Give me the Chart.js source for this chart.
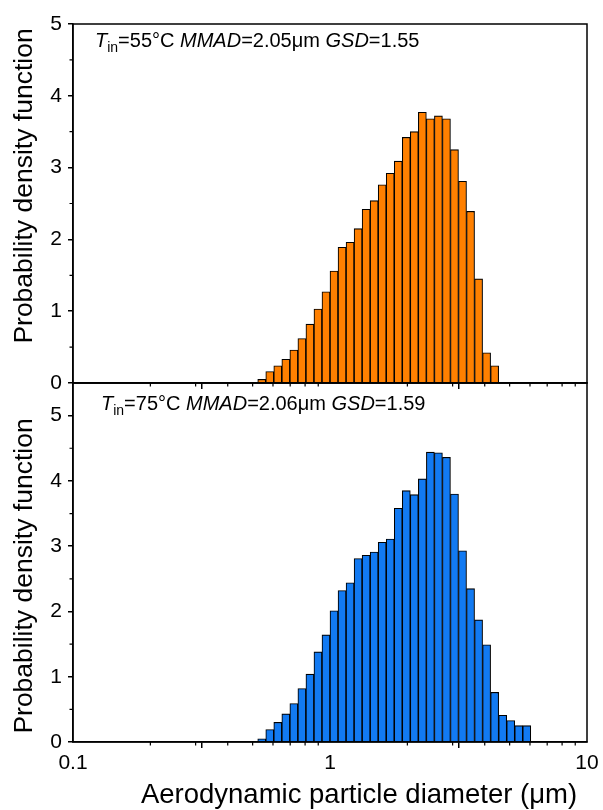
<!DOCTYPE html>
<html>
<head>
<meta charset="utf-8">
<script src="https://cdn.jsdelivr.net/npm/chart.js@4.4.1/dist/chart.umd.min.js"></script>
<style>
  html, body { margin: 0; padding: 0; background: #fff; }
  #wrap { position: relative; width: 603px; height: 810px; }
  canvas { position: absolute; left: 0; }
  #top { top: 0; }
  #bottom { top: 375px; }
</style>
</head>
<body>
<div id="wrap">
  <canvas id="top" width="603" height="400"></canvas>
  <canvas id="bottom" width="603" height="435"></canvas>
</div>
<script>
const FONT = '"Liberation Sans", Arial, Helvetica, sans-serif';

// APS channel midpoints (um), 32 channels per decade
const sizes55 = [0.5425, 0.5830, 0.6264, 0.6732, 0.7234, 0.7774, 0.8354, 0.8977, 0.9647,
  1.0366, 1.1140, 1.1971, 1.2864, 1.3824, 1.4855, 1.5963, 1.7154, 1.8434, 1.9809,
  2.1287, 2.2875, 2.4582, 2.6416, 2.8387, 3.0505, 3.2781, 3.5227, 3.7855, 4.0679, 4.3714];
const pdf55 = [0.05, 0.16, 0.24, 0.33, 0.46, 0.62, 0.82, 1.03, 1.27, 1.56,
  1.89, 1.96, 2.15, 2.42, 2.54, 2.76, 2.92, 3.09, 3.42, 3.50,
  3.77, 3.68, 3.72, 3.68, 3.25, 2.81, 2.39, 1.45, 0.42, 0.24];

const sizes75 = [0.5425, 0.5830, 0.6264, 0.6732, 0.7234, 0.7774, 0.8354, 0.8977, 0.9647,
  1.0366, 1.1140, 1.1971, 1.2864, 1.3824, 1.4855, 1.5963, 1.7154, 1.8434, 1.9809,
  2.1287, 2.2875, 2.4582, 2.6416, 2.8387, 3.0505, 3.2781, 3.5227, 3.7855, 4.0679, 4.3714,
  4.6976, 5.0481, 5.4247, 5.8294];
const pdf75 = [0.05, 0.19, 0.30, 0.43, 0.59, 0.82, 1.04, 1.38, 1.64, 2.01,
  2.32, 2.44, 2.81, 2.86, 2.91, 3.06, 3.11, 3.58, 3.85, 3.79,
  4.03, 4.44, 4.43, 4.36, 3.80, 2.93, 2.35, 1.87, 1.49, 0.76,
  0.41, 0.33, 0.25, 0.25];

const xTickValues = [0.1, 1, 10];
const xTickLabels = ['0.1', '1', '10'];
const xMinorValues = [0.2, 0.3, 0.4, 0.5, 0.6, 0.7, 0.8, 0.9, 2, 3, 4, 5, 6, 7, 8, 9];
const yTickValues = [0, 1, 2, 3, 4, 5];
const yMinorValues = [0.5, 1.5, 2.5, 3.5, 4.5];

const note55 = [['T', 'italic'], ['in', 'sub'], ['=55°C ', ''], ['MMAD', 'italic'], ['=2.05μm ', ''], ['GSD', 'italic'], ['=1.55', '']];
const note75 = [['T', 'italic'], ['in', 'sub'], ['=75°C ', ''], ['MMAD', 'italic'], ['=2.06μm ', ''], ['GSD', 'italic'], ['=1.59', '']];

const yTitle = 'Probability density function';
const xTitle = 'Aerodynamic particle diameter (μm)';

// frame, minor ticks, annotation and axis titles
const panelDecor = {
  id: 'panelDecor',
  afterDatasetsDraw(chart, args, opts) {
    const { ctx, chartArea: a, scales: { x, y } } = chart;
    ctx.save();
    ctx.strokeStyle = '#000';
    ctx.lineWidth = 1.5;
    ctx.strokeRect(a.left, a.top, a.right - a.left, a.bottom - a.top);

    ctx.lineWidth = 1.2;
    ctx.beginPath();
    xMinorValues.forEach(v => {
      const px = x.getPixelForValue(v);
      ctx.moveTo(px, a.bottom);
      ctx.lineTo(px, a.bottom + 3.5);
    });
    yMinorValues.forEach(v => {
      const py = y.getPixelForValue(v);
      ctx.moveTo(a.left, py);
      ctx.lineTo(a.left - 3.5, py);
    });
    ctx.stroke();

    ctx.fillStyle = '#000';
    ctx.textAlign = 'left';
    ctx.textBaseline = 'alphabetic';
    let tx = a.left + opts.noteDx;
    const ty = a.top + opts.noteDy;
    opts.note.forEach(([t, style]) => {
      const sub = style === 'sub';
      ctx.font = (style === 'italic' ? 'italic ' : '') + (sub ? 14 : 20) + 'px ' + FONT;
      ctx.fillText(t, tx, ty + (sub ? 5 : 0));
      tx += ctx.measureText(t).width;
    });

    ctx.save();
    ctx.translate(25, a.top + opts.yTitleDy);
    ctx.rotate(-Math.PI / 2);
    ctx.font = '26.5px ' + FONT;
    ctx.textAlign = 'center';
    ctx.textBaseline = 'middle';
    ctx.fillText(yTitle, 0, 0);
    ctx.restore();

    if (opts.showXTitle) {
      ctx.font = '27.5px ' + FONT;
      ctx.textAlign = 'center';
      ctx.textBaseline = 'middle';
      ctx.fillText(xTitle, a.left + 286, a.bottom + 53);
    }
    ctx.restore();
  }
};

function makePanel(id, sizes, values, color, yMax, decor) {
  return new Chart(document.getElementById(id), {
    type: 'bar',
    data: {
      datasets: [{
        data: sizes.map((d, i) => ({ x: d, y: values[i] })),
        backgroundColor: color,
        borderColor: '#000',
        borderWidth: 1.1,
        categoryPercentage: 1,
        barPercentage: 1
      }]
    },
    options: {
      responsive: false,
      animation: false,
      layout: { padding: { top: decor.padTop, right: 16, left: 0, bottom: 0 } },
      plugins: {
        legend: { display: false },
        tooltip: { enabled: false },
        panelDecor: decor
      },
      scales: {
        x: {
          type: 'logarithmic',
          min: 0.1,
          max: 10,
          afterBuildTicks: s => { s.ticks = xTickValues.map(v => ({ value: v })); },
          afterFit: s => { s.height = decor.xHeight; },
          ticks: {
            display: decor.showXTitle,
            callback: (v, i) => xTickLabels[i],
            font: { family: FONT, size: 21 },
            color: '#000',
            padding: 3,
            maxRotation: 0,
            autoSkip: false
          },
          grid: { drawOnChartArea: false, tickLength: 6, color: '#000', lineWidth: 1.5 },
          border: { color: '#000', width: 1.5 }
        },
        y: {
          min: 0,
          max: yMax,
          afterBuildTicks: s => { s.ticks = yTickValues.map(v => ({ value: v })); },
          afterFit: s => { s.width = 73; s.paddingTop = 0; s.paddingBottom = 0; },
          ticks: { font: { family: FONT, size: 21 }, color: '#000', padding: 6 },
          grid: { drawOnChartArea: false, tickLength: 5, color: '#000', lineWidth: 1.5 },
          border: { color: '#000', width: 1.5 }
        }
      }
    },
    plugins: [panelDecor]
  });
}

makePanel('top', sizes55, pdf55, '#ff8000', 5, {
  padTop: 24, xHeight: 17, note: note55, noteDx: 22, noteDy: 23, yTitleDy: 162, showXTitle: false
});
makePanel('bottom', sizes75, pdf75, '#127af2', 5.5, {
  padTop: 8, xHeight: 68, note: note75, noteDx: 28, noteDy: 27, yTitleDy: 193, showXTitle: true
});
</script>
</body>
</html>
